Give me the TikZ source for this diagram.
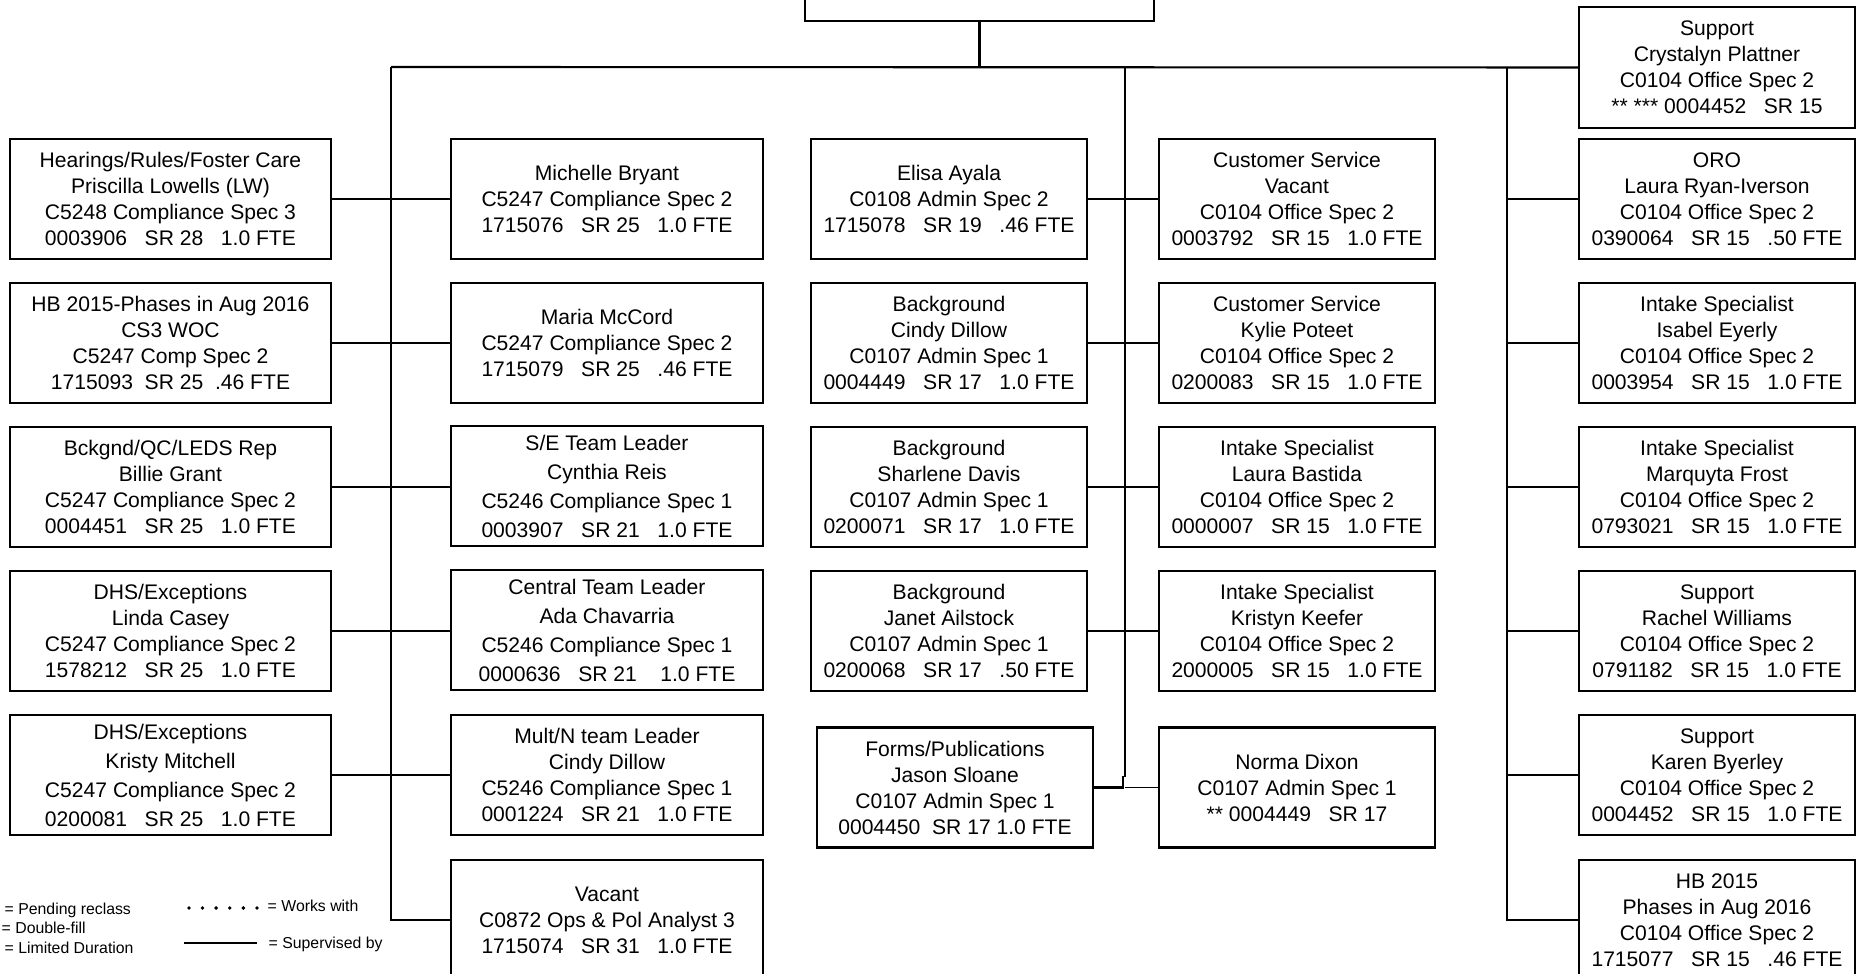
\documentclass[tikz,border=0pt]{standalone}
\usepackage{fontspec}
\setmainfont{Liberation Sans}
\begin{document}
\begin{tikzpicture}[x=0.01cm, y=-0.01cm, line join=miter,
    post/.style={draw, line width=0.6pt, rectangle, align=center, inner sep=0pt,
      minimum height=1.2cm, font=\fontsize{6}{7.4}\selectfont},
    postwide/.style={post, font=\fontsize{6}{8.25}\selectfont},
    colA/.style={minimum width=3.21cm},
    colB/.style={minimum width=3.12cm},
    colC/.style={minimum width=2.76cm},
    link/.style={line width=0.6pt},
    legendtext/.style={anchor=west, inner sep=0pt, font=\fontsize{4.5}{5}\selectfont}]
  \useasboundingbox (0,0) rectangle (1858,974);
  \clip (0,0) rectangle (1858,974);

  % Top box (cut off by the page)
  \node[post, minimum width=3.49cm] (director) at (979.5,-39) {};

  % Column 1
  \node[post, colA] (hearings) at (170.5,199) {Hearings/Rules/Foster Care\\Priscilla Lowells (LW)\\C5248 Compliance Spec 3\\0003906~~~SR 28~~~1.0 FTE};
  \node[post, colA] (hbcomp) at (170.5,343) {HB 2015-Phases in Aug 2016\\CS3 WOC\\C5247 Comp Spec 2\\1715093~~SR 25~~.46 FTE};
  \node[post, colA] (bckgnd) at (170.5,487) {Bckgnd/QC/LEDS Rep\\Billie Grant\\C5247 Compliance Spec 2\\0004451~~~SR 25~~~1.0 FTE};
  \node[post, colA] (dhscasey) at (170.5,631) {DHS/Exceptions\\Linda Casey\\C5247 Compliance Spec 2\\1578212~~~SR 25~~~1.0 FTE};
  \node[postwide, colA] (dhsmitchell) at (170.5,775) {DHS/Exceptions\\Kristy Mitchell\\C5247 Compliance Spec 2\\0200081~~~SR 25~~~1.0 FTE};

  % Column 2
  \node[post, colB] (bryant) at (607,199) {Michelle Bryant\\C5247 Compliance Spec 2\\1715076~~~SR 25~~~1.0 FTE};
  \node[post, colB] (mccord) at (607,343) {Maria McCord\\C5247 Compliance Spec 2\\1715079~~~SR 25~~~.46 FTE};
  \node[postwide, colB] (reis) at (607,486) {S/E Team Leader\\Cynthia Reis\\C5246 Compliance Spec 1\\0003907~~~SR 21~~~1.0 FTE};
  \node[postwide, colB] (chavarria) at (607,630) {Central Team Leader\\Ada Chavarria\\C5246 Compliance Spec 1\\0000636~~~SR 21~~~~1.0 FTE};
  \node[post, colB] (dillowlead) at (607,775) {Mult/N team Leader\\Cindy Dillow\\C5246 Compliance Spec 1\\0001224~~~SR 21~~~1.0 FTE};
  \node[post, colB] (vacantops) at (607,920) {Vacant\\C0872 Ops \& Pol Analyst 3\\1715074~~~SR 31~~~1.0 FTE};

  % Column 3
  \node[post, colC] (ayala) at (949,199) {Elisa Ayala\\C0108 Admin Spec 2\\1715078~~~SR 19~~~.46 FTE};
  \node[post, colC] (dillowbg) at (949,343) {Background\\Cindy Dillow\\C0107 Admin Spec 1\\0004449~~~SR 17~~~1.0 FTE};
  \node[post, colC] (davis) at (949,487) {Background\\Sharlene Davis\\C0107 Admin Spec 1\\0200071~~~SR 17~~~1.0 FTE};
  \node[post, colC] (ailstock) at (949,631) {Background\\Janet Ailstock\\C0107 Admin Spec 1\\0200068~~~SR 17~~~.50 FTE};
  \node[post, colC] (sloane) at (955,787.5) {Forms/Publications\\Jason Sloane\\C0107 Admin Spec 1\\0004450~~SR 17 1.0 FTE};

  % Column 4
  \node[post, colC] (custvacant) at (1297,199) {Customer Service\\Vacant\\C0104 Office Spec 2\\0003792~~~SR 15~~~1.0 FTE};
  \node[post, colC] (poteet) at (1297,343) {Customer Service\\Kylie Poteet\\C0104 Office Spec 2\\0200083~~~SR 15~~~1.0 FTE};
  \node[post, colC] (bastida) at (1297,487) {Intake Specialist\\Laura Bastida\\C0104 Office Spec 2\\0000007~~~SR 15~~~1.0 FTE};
  \node[post, colC] (keefer) at (1297,631) {Intake Specialist\\Kristyn Keefer\\C0104 Office Spec 2\\2000005~~~SR 15~~~1.0 FTE};
  \node[post, colC] (dixon) at (1297,787.5) {Norma Dixon\\C0107 Admin Spec 1\\** 0004449~~~SR 17};

  % Column 5
  \node[post, colC, minimum height=1.21cm] (plattner) at (1717,67.5) {Support\\Crystalyn Plattner\\C0104 Office Spec 2\\** *** 0004452~~~SR 15};
  \node[post, colC] (oro) at (1717,199) {ORO\\Laura Ryan-Iverson\\C0104 Office Spec 2\\0390064~~~SR 15~~~.50 FTE};
  \node[post, colC] (eyerly) at (1717,343) {Intake Specialist\\Isabel Eyerly\\C0104 Office Spec 2\\0003954~~~SR 15~~~1.0 FTE};
  \node[post, colC] (frost) at (1717,487) {Intake Specialist\\Marquyta Frost\\C0104 Office Spec 2\\0793021~~~SR 15~~~1.0 FTE};
  \node[post, colC] (williams) at (1717,631) {Support\\Rachel Williams\\C0104 Office Spec 2\\0791182~~~SR 15~~~1.0 FTE};
  \node[post, colC] (byerley) at (1717,775) {Support\\Karen Byerley\\C0104 Office Spec 2\\0004452~~~SR 15~~~1.0 FTE};
  \node[post, colC] (hbsupport) at (1717,920) {HB 2015\\Phases in Aug 2016\\C0104 Office Spec 2\\1715077~~~SR 15~~~.46 FTE};

  % Bus lines
  \coordinate (topjoin) at (979.5,67);
  \coordinate (lefttop) at (391,67);
  \coordinate (midtop) at (1125,67);
  \coordinate (righttop) at (1507,67);
  \coordinate (midend) at (1125,787.5);
  \draw[link] (director.south) -- (topjoin);
  \draw[link] (lefttop) -- (plattner.west);
  \draw[link] (lefttop) |- (vacantops.west);
  \draw[link] (righttop) |- (hbsupport.west);
  \draw[link] (midtop) -- ([yshift=0.1cm]midend);

  % Row connectors
  \foreach \a/\b in {hearings/bryant, hbcomp/mccord, bckgnd/reis, dhscasey/chavarria,
      dhsmitchell/dillowlead, ayala/custvacant, dillowbg/poteet, davis/bastida, ailstock/keefer}
    \draw[link] (\a.east) -- (\b.west |- \a.east);
  \foreach \b in {oro, eyerly, frost, williams, byerley}
    \draw[link] (righttop |- \b.west) -- (\b.west);
  \draw[link] (sloane.east) -- ++(29,0) -- ++(0,-11);
  \draw[line width=0.3pt] (midend) -- (dixon.west);

  % Legend
  \node[legendtext] (pending) at (4,910) {= Pending reclass};
  \node[legendtext] (doublefill) at (1,928) {= Double-fill};
  \node[legendtext] (limited) at (4,948) {= Limited Duration};
  \node[legendtext] (workswith) at (267,906) {= Works with};
  \node[legendtext] (supervised) at (268,944) {= Supervised by};
  \draw[line width=1.1pt, line cap=round, dash pattern=on 0pt off 0.136cm]
    ([xshift=-0.1cm, yshift=-0.02cm]workswith.west) -- ++(-70,0);
  \draw[link] ([xshift=-0.11cm, yshift=0.01cm]supervised.west) -- ++(-73,0);
\end{tikzpicture}
\end{document}
